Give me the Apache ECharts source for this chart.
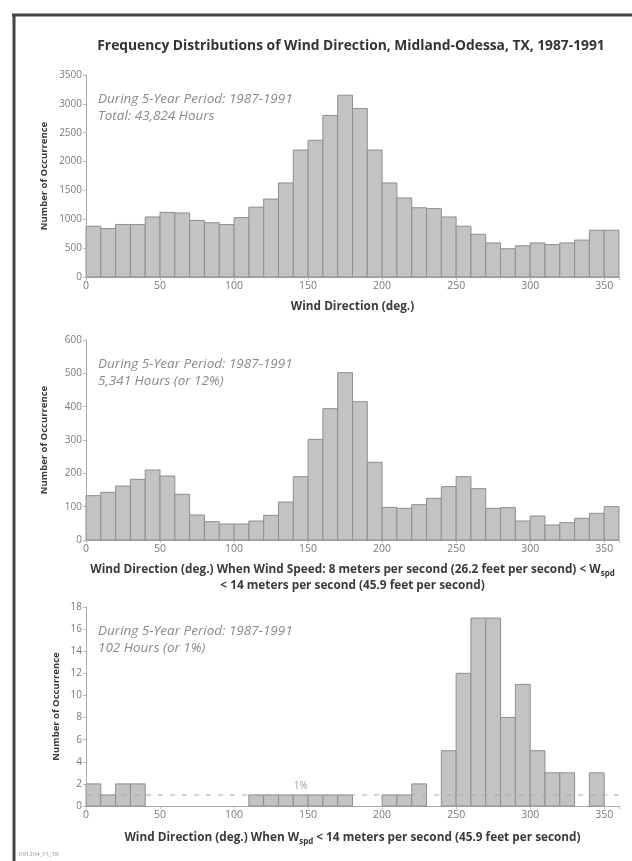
<!DOCTYPE html>
<html>
<head>
<meta charset="utf-8">
<title>Wind Direction, Midland-Odessa</title>
<script src="https://cdn.jsdelivr.net/npm/echarts@6/dist/echarts.min.js"></script>
<style>
  html, body { margin: 0; padding: 0; background: #fff; }
  #main { width: 632px; height: 861px; }
</style>
</head>
<body>
<div id="main"></div>
<script>
// 10-degree direction bins (start of each bin)
var binStarts = [0, 10, 20, 30, 40, 50, 60, 70, 80, 90, 100, 110, 120, 130, 140, 150, 160, 170,
                 180, 190, 200, 210, 220, 230, 240, 250, 260, 270, 280, 290, 300, 310, 320, 330, 340, 350];
var binWidth = 10;

// hours per bin, all speeds
var allHours = [880, 840, 910, 910, 1040, 1120, 1110, 980, 940, 910, 1030, 1210, 1350, 1630, 2200, 2370, 2800, 3150,
                2920, 2200, 1630, 1370, 1200, 1185, 1040, 880, 740, 590, 490, 540, 590, 560, 590, 640, 810, 810];
// hours per bin, 8 m/s < Wspd < 14 m/s
var midHours = [133, 143, 162, 182, 210, 192, 137, 75, 55, 48, 48, 57, 74, 114, 190, 302, 394, 502,
                415, 233, 98, 95, 106, 125, 160, 190, 154, 95, 97, 57, 72, 45, 52, 65, 80, 100];
// hours per bin, Wspd >= 14 m/s
var highHours = [2, 1, 2, 2, 0, 0, 0, 0, 0, 0, 0, 1, 1, 1, 1, 1, 1, 1,
                 0, 0, 1, 1, 2, 0, 5, 12, 17, 17, 8, 11, 5, 3, 3, 0, 3, 0];

var onePctLevel = 1;
var onePctLabelAt = 145;

var xTicks = [0, 50, 100, 150, 200, 250, 300, 350];
var yMax = [3500, 600, 18];
var yStep = [500, 100, 2];

var notes = [
  ['During 5-Year Period: 1987-1991', 'Total: 43,824 Hours'],
  ['During 5-Year Period: 1987-1991', '5,341 Hours (or 12%)'],
  ['During 5-Year Period: 1987-1991', '102 Hours (or 1%)']
];

var xNames = [
  'Wind Direction (deg.)',
  'Wind Direction (deg.) When Wind Speed: 8 meters per second (26.2 feet per second) < W{sub|spd}\n< 14 meters per second (45.9 feet per second)',
  'Wind Direction (deg.) When W{sub|spd} < 14 meters per second (45.9 feet per second)'
];

function toRows(vals) {
  var rows = [];
  for (var i = 0; i < binStarts.length; i++) {
    rows.push([binStarts[i], binStarts[i] + binWidth, vals[i]]);
  }
  return rows;
}

function renderBin(params, api) {
  var v = api.value(2);
  if (!v) return null;
  var p0 = api.coord([api.value(0), v]);
  var p1 = api.coord([api.value(1), 0]);
  return {
    type: 'rect',
    shape: { x: p0[0], y: p0[1], width: p1[0] - p0[0], height: p1[1] - p0[1] },
    style: { fill: '#c3c3c3', stroke: '#8e8e8e', lineWidth: 1 }
  };
}

var grids = [
  { left: 86, width: 533, top: 75, height: 202 },
  { left: 86, width: 533, top: 340, height: 200 },
  { left: 86, width: 533, top: 607, height: 199 }
];
var nameGaps = [22, 22, 24];
var yNameGaps = [37, 37, 25];

var labelFont = 'Open Sans, Noto Sans, sans-serif';
var xAxes = [], yAxes = [], series = [], graphics = [];

for (var g = 0; g < 3; g++) {
  xAxes.push({
    gridIndex: g, type: 'value', min: 0, max: 360, interval: 50, position: 'bottom',
    axisLine: { lineStyle: { color: '#aaa' } },
    axisTick: { length: 3, lineStyle: { color: '#999' } },
    splitLine: { show: false },
    axisLabel: { color: '#7a7a7a', fontSize: 10.5, fontFamily: labelFont, margin: 4, showMaxLabel: false,
      formatter: function (v) { return xTicks.indexOf(v) >= 0 ? String(v) : ''; } },
    name: xNames[g], nameLocation: 'middle', nameGap: nameGaps[g], nameMoveOverlap: false,
    nameTextStyle: { color: '#3a3a3a', fontWeight: 'bold', fontSize: 11.8, fontFamily: labelFont, lineHeight: 16,
      rich: { sub: { fontSize: 8, fontWeight: 'bold', color: '#3a3a3a', verticalAlign: 'bottom', padding: [4, 0, 0, 0] } } }
  });
  xAxes.push({
    gridIndex: g, type: 'value', min: 0, max: 360, interval: 50, position: 'top',
    axisLine: { lineStyle: { color: '#aaa' } },
    axisTick: { inside: true, length: 3, lineStyle: { color: '#bbb' } },
    axisLabel: { show: false }, splitLine: { show: false }
  });
  yAxes.push({
    gridIndex: g, type: 'value', min: 0, max: yMax[g], interval: yStep[g], position: 'left',
    axisLine: { show: true, lineStyle: { color: '#aaa' } },
    axisTick: { show: true, length: 3, lineStyle: { color: '#999' } },
    splitLine: { show: false },
    axisLabel: { color: '#7a7a7a', fontSize: 10, fontFamily: labelFont, margin: 4,
      formatter: function (v) { return String(v); } },
    name: 'Number of Occurrence', nameLocation: 'middle', nameGap: yNameGaps[g], nameRotate: 90, nameMoveOverlap: false,
    nameTextStyle: { color: '#3a3a3a', fontWeight: 'bold', fontSize: 9.5, fontFamily: labelFont }
  });
  yAxes.push({
    gridIndex: g, type: 'value', min: 0, max: yMax[g], interval: yStep[g], position: 'right',
    axisLine: { show: true, lineStyle: { color: '#aaa' } },
    axisTick: { show: true, inside: true, length: 3, lineStyle: { color: '#bbb' } },
    axisLabel: { show: false }, splitLine: { show: false }
  });

  var box = grids[g];
  graphics.push({
    type: 'text', left: box.left + 12, top: box.top + 16,
    style: { text: notes[g][0] + '\n' + notes[g][1], fill: '#8a8a8a', fontSize: 13.5, fontStyle: 'italic',
      fontFamily: labelFont, lineHeight: 17 }
  });
}

var hourSets = [allHours, midHours, highHours];
for (var s = 0; s < 3; s++) {
  series.push({
    type: 'custom', xAxisIndex: s * 2, yAxisIndex: s * 2,
    renderItem: renderBin, data: toRows(hourSets[s]),
    encode: { x: [0, 1], y: 2 }, z: 2
  });
}

// 1% reference line in the last panel
series.push({
  type: 'line', xAxisIndex: 4, yAxisIndex: 4, symbol: 'none', z: 5,
  data: [[0, onePctLevel], [360, onePctLevel]],
  lineStyle: { color: '#a8a8a8', width: 1, type: [5, 7] }
});
series.push({
  type: 'scatter', xAxisIndex: 4, yAxisIndex: 4, symbolSize: 0, z: 5,
  data: [[onePctLabelAt, onePctLevel]],
  label: { show: true, position: 'top', distance: 4, formatter: '1%', color: '#888', fontSize: 10, fontFamily: labelFont }
});

// page frame and footer tag
graphics.push({ type: 'line', shape: { x1: 12, y1: 15, x2: 632, y2: 15 }, style: { stroke: '#444', lineWidth: 3 } });
graphics.push({ type: 'line', shape: { x1: 14, y1: 14, x2: 14, y2: 861 }, style: { stroke: '#444', lineWidth: 3 } });
graphics.push({ type: 'text', left: 19, top: 851, style: { text: '091204_01_TR', fill: '#999', fontSize: 6, fontFamily: labelFont } });

var myChart = echarts.init(document.getElementById('main'));
var option = {
  backgroundColor: '#fff',
  animation: false,
  title: {
    text: 'Frequency Distributions of Wind Direction, Midland-Odessa, TX, 1987-1991',
    left: 346, top: 34, textAlign: 'center',
    textStyle: { color: '#333', fontSize: 13.8, fontWeight: 'bold', fontFamily: labelFont }
  },
  grid: grids,
  xAxis: xAxes,
  yAxis: yAxes,
  series: series,
  graphic: graphics
};
myChart.setOption(option);

window.onresize = function () {
  myChart.resize();
};
</script>
</body>
</html>
